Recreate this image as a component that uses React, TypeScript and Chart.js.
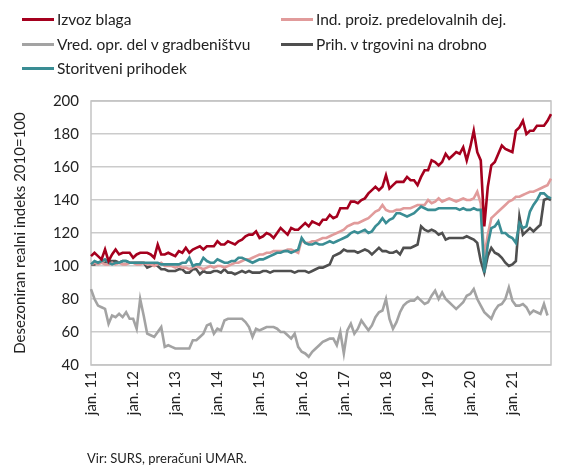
import React, { useEffect, useRef } from "react";
import { Chart, registerables } from "chart.js";
Chart.register(...registerables);

const years = ["11", "12", "13", "14", "15", "16", "17", "18", "19", "20", "21"];
const monthsPerYear = 12;

const izvozBlaga = [
  106, 108, 106, 104, 110, 103, 107, 110, 107, 108, 108, 108,
  105, 107, 108, 108, 108, 107, 105, 113, 107, 107, 108, 107,
  106, 109, 108, 111, 108, 110, 111, 112, 110, 112, 112, 112,
  115, 113, 113, 115, 114, 113, 115, 116, 118, 119, 119, 121,
  117, 118, 120, 119, 117, 120, 123, 121, 119, 123, 122, 122,
  124, 126, 124, 127, 126, 125, 128, 128, 131, 129, 130, 135,
  135, 135, 139, 139, 138, 140, 141, 144, 146, 148, 146, 148,
  155, 147, 149, 151, 151, 151, 154, 152, 152, 149, 154, 158,
  158, 164, 163, 161, 163, 168, 165, 167, 169, 168, 172, 164,
  172, 182, 169, 164, 124, 148, 161, 163, 168, 173, 171, 170,
  169, 182, 184, 188, 180, 182, 182, 185, 185, 185, 188, 192,
];

const indProiz = [
  101, 102, 101, 102, 101, 101, 102, 101, 102, 101, 101, 102,
  102, 101, 101, 102, 101, 101, 100, 101, 102, 100, 100, 100,
  99, 100, 99, 99, 98, 99, 100, 99, 98, 99, 100, 99,
  100, 100, 99, 100, 101, 102, 102, 103, 104, 104, 105, 106,
  107, 107, 108, 108, 109, 109, 109, 109, 110, 110, 109, 108,
  116, 114, 114, 115, 115, 116, 117, 117, 118, 119, 120, 121,
  122, 124, 125, 126, 126, 127, 128, 129, 131, 133, 134, 137,
  134, 133, 133, 134, 134, 135, 135, 135, 136, 137, 137, 137,
  140, 138, 139, 141, 139, 140, 141, 140, 139, 140, 141, 140,
  140, 141, 145, 138, 106, 119, 129, 131, 133, 135, 137, 139,
  140, 142, 142, 143, 144, 145, 145, 146, 147, 148, 149, 153,
];

const vredGradb = [
  86, 80, 76, 75, 74, 65, 70, 69, 71, 69, 72, 68,
  68, 62, 80, 70, 59, 58, 57, 60, 63, 51, 52, 51,
  50, 50, 50, 50, 50, 55, 55, 57, 59, 64, 65, 59,
  62, 61, 67, 68, 68, 68, 68, 68, 66, 63, 57, 62,
  61, 62, 63, 63, 63, 62, 60, 60, 58, 56, 59, 51,
  48, 47, 45, 48, 50, 52, 54, 55, 56, 56, 52, 60,
  47, 61, 65, 59, 62, 67, 64, 61, 64, 69, 72, 73,
  80, 68, 62, 66, 72, 76, 78, 79, 79, 81, 79, 77,
  78, 82, 85, 80, 84, 80, 78, 76, 74, 76, 78, 82,
  83, 86, 80, 76, 72, 70, 68, 73, 76, 77, 80, 87,
  79, 76, 76, 77, 75, 71, 73, 72, 71, 77, 70, null,
];

const prihTrgovina = [
  101, 101, 102, 102, 102, 103, 103, 103, 102, 103, 103, 102,
  102, 102, 102, 102, 99, 100, 101, 100, 98, 98, 97, 97,
  97, 98, 98, 96, 96, 98, 98, 95, 97, 96, 96, 97,
  97, 96, 98, 96, 96, 95, 96, 97, 96, 97, 96, 96,
  96, 97, 97, 96, 97, 97, 97, 97, 97, 97, 96, 97,
  97, 97, 96, 97, 98, 99, 99, 100, 101, 106, 107, 108,
  110, 109, 109, 109, 108, 109, 110, 109, 107, 109, 111, 109,
  109, 108, 108, 109, 107, 111, 111, 111, 112, 113, 124, 122,
  121, 122, 121, 119, 120, 116, 117, 117, 117, 117, 117, 118,
  117, 116, 114, 103, 96, 106, 111, 108, 107, 105, 102, 100,
  101, 103, 130, 119, 121, 123, 121, 123, 125, 140, 141, 140,
];

const storitveni = [
  101, 103, 102, 103, 104, 102, 101, 102, 102, 103, 103, 102,
  102, 102, 102, 102, 102, 102, 102, 102, 101, 101, 101, 101,
  101, 101, 102, 102, 105, 100, 101, 101, 105, 103, 102, 102,
  104, 103, 102, 102, 103, 103, 105, 105, 104, 103, 102, 103,
  104, 104, 105, 106, 107, 108, 108, 109, 109, 108, 109, 110,
  117, 114, 113, 113, 114, 113, 113, 114, 115, 114, 115, 116,
  117, 118, 120, 121, 120, 121, 122, 120, 121, 124, 126, 129,
  126, 128, 129, 132, 132, 131, 130, 131, 132, 134, 136, 135,
  134, 134, 134, 135, 135, 135, 135, 135, 135, 134, 135, 134,
  134, 135, 134, 134, 96, 113, 123, 124, 127, 120, 120, 118,
  117, 114, 126, 123, 124, 133, 137, 140, 144, 144, 142, 141,
];

const seriesNames = [
  "Izvoz blaga",
  "Ind. proiz. predelovalnih dej.",
  "Vred. opr. del v gradbeništvu",
  "Prih. v trgovini na drobno",
  "Storitveni prihodek",
];
const seriesColors = ["#a5001e", "#e19b9b", "#a3a3a3", "#4f4f4f", "#3a8d94"];

const yTitle = "Desezoniran realni indeks 2010=100";
const sourceNote = "Vir: SURS, preračuni UMAR.";

const labels: string[] = [];
years.forEach((y) => {
  for (let m = 1; m <= monthsPerYear; m++) {
    labels.push(m === 1 ? `jan. ${y}` : `${m}. ${y}`);
  }
});

const FONT = "Lato, 'Open Sans', sans-serif";

const boxPlugin = {
  id: "boxPlugin",
  beforeDatasetsDraw(chart: any) {
    const { ctx, chartArea } = chart;
    const { left, top, right, bottom } = chartArea;
    ctx.save();
    ctx.strokeStyle = "#c4c4c4";
    ctx.lineWidth = 1.5;
    ctx.strokeRect(left, top, right - left, bottom - top);
    ctx.restore();
  },
};

export default function App() {
  const ref = useRef<HTMLCanvasElement>(null);

  useEffect(() => {
    const dataArrays = [izvozBlaga, indProiz, vredGradb, prihTrgovina, storitveni];
    const orderMap = [5, 3, 1, 2, 4];
    const chart = new Chart(ref.current as HTMLCanvasElement, {
      type: "line",
      data: {
        labels,
        datasets: dataArrays.map((d, i) => ({
          label: seriesNames[i],
          data: d,
          borderColor: seriesColors[i],
          backgroundColor: seriesColors[i],
          borderWidth: 2.6,
          pointRadius: 0,
          tension: 0,
          fill: false,
          order: orderMap[i] * -1,
        })),
      },
      options: {
        responsive: false,
        animation: false,
        devicePixelRatio: 1,
        layout: { padding: { top: 101, right: 9, left: 0, bottom: 0 } },
        plugins: {
          legend: { display: false },
          tooltip: { enabled: false },
        },
        scales: {
          x: {
            type: "category",
            offset: false,
            grid: { display: false, drawTicks: false },
            border: { display: false },
            ticks: {
              autoSkip: false,
              maxRotation: 90,
              minRotation: 90,
              padding: 6,
              color: "#222",
              font: { family: FONT, size: 15 },
              callback: (_v: any, i: number) => (i % 12 === 0 ? labels[i] : ""),
            },
            afterFit: (s: any) => {
              s.height = 103;
            },
          },
          y: {
            min: 40,
            max: 200,
            grid: { color: "#cbcbcb", lineWidth: 1.5, drawTicks: false },
            border: { display: false },
            ticks: {
              stepSize: 20,
              padding: 12,
              color: "#222",
              font: { family: FONT, size: 15 },
            },
            title: {
              display: true,
              text: yTitle,
              color: "#222",
              font: { family: FONT, size: 15 },
              padding: { top: 11, bottom: 0 },
            },
            afterFit: (s: any) => {
              s.width = 91;
            },
          },
        },
      },
      plugins: [boxPlugin],
    });
    return () => chart.destroy();
  }, []);

  const legendPos = [
    { left: 22, top: 19 },
    { left: 281, top: 19 },
    { left: 22, top: 44 },
    { left: 281, top: 44 },
    { left: 22, top: 68 },
  ];

  return (
    <div
      style={{
        position: "absolute",
        left: 0,
        top: 0,
        width: 575,
        height: 468,
        background: "#fff",
        fontFamily: FONT,
        color: "#222",
        overflow: "hidden",
      }}
    >
      <canvas ref={ref} width={575} height={468} style={{ position: "absolute", left: 0, top: 0 }} />
      {seriesNames.map((n, i) => (
        <div
          key={n}
          style={{
            position: "absolute",
            left: legendPos[i].left,
            top: legendPos[i].top - 10,
            height: 20,
            display: "flex",
            alignItems: "center",
            whiteSpace: "nowrap",
            fontSize: 15.5,
          }}
        >
          <span style={{ display: "inline-block", width: 32, height: 3, background: seriesColors[i], marginRight: 3 }} />
          <span>{n}</span>
        </div>
      ))}
      <div style={{ position: "absolute", left: 87, top: 450, fontSize: 13, whiteSpace: "nowrap" }}>{sourceNote}</div>
    </div>
  );
}
